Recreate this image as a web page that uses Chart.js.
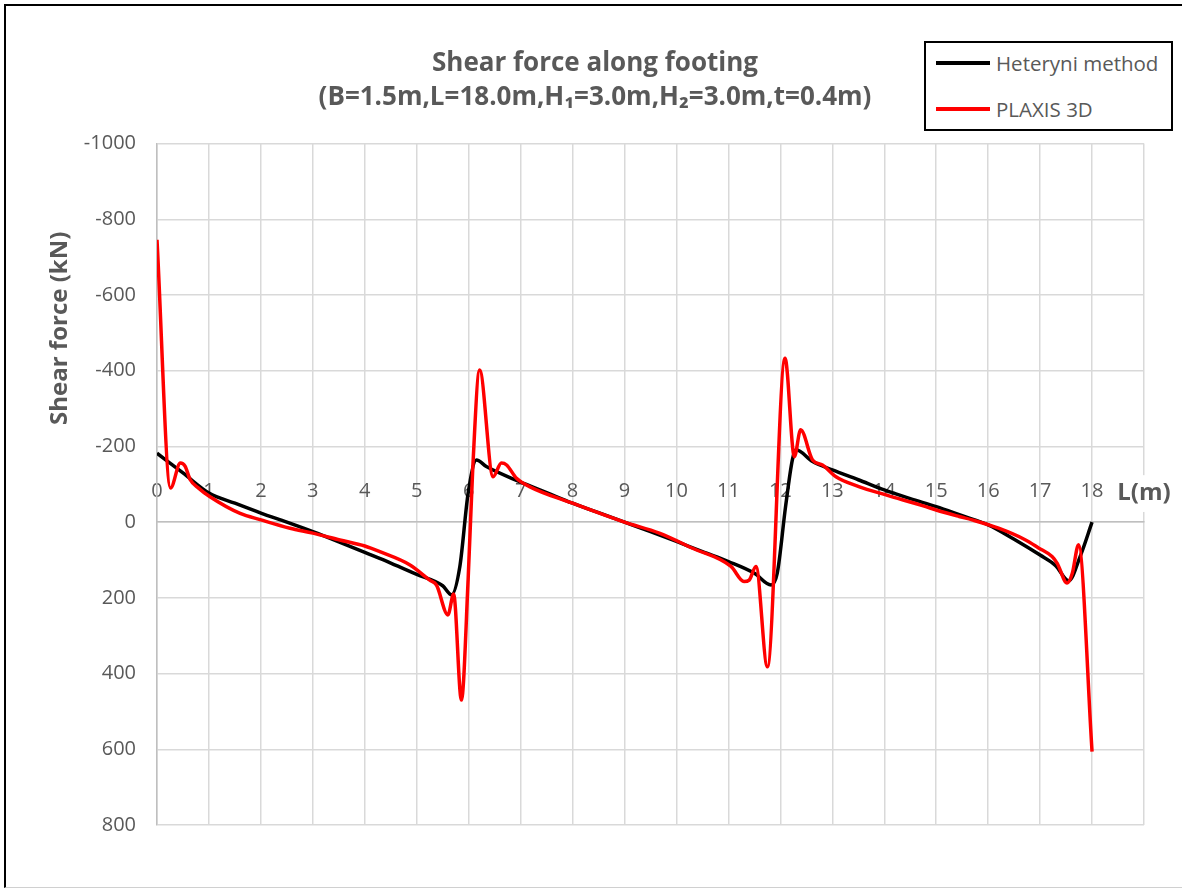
<!DOCTYPE html>
<html>
<head>
    <title>Shear force along footing</title>
    <script src="https://cdn.jsdelivr.net/npm/chart.js"></script>
    <style>
        html, body { margin: 0; padding: 0; background: #fff; overflow: hidden; }
        #frame { position: absolute; left: 4px; top: 4px; width: 1190px; height: 881px;
                 border-top: 2px solid #000; border-left: 2px solid #000; border-bottom: 1px solid #d0d0d0; }
        #wrap { position: absolute; left: 0; top: 0; width: 1182px; height: 888px; }
        #legend { position: absolute; left: 924px; top: 41px; width: 245px; height: 86px;
                  border: 2px solid #000; background: #fff; font-family: 'Open Sans', sans-serif;
                  font-size: 20.5px; color: #595959; }
        .item { position: absolute; left: 10px; height: 28px; display: flex; align-items: center; }
        .item .swatch { width: 54px; height: 4px; margin-right: 6px; }
    </style>
</head>
<body>
    <div id="frame"></div>
    <div id="wrap"><canvas id="chart" width="1182" height="888"></canvas></div>
    <div id="legend"></div>

    <script>
        // Hetenyi method (analytical)
        const heteX = [0, 0.5, 1, 1.5, 2, 2.5, 3, 3.5, 4, 4.5, 5, 5.5, 5.67, 5.83, 5.99, 6.15, 6.34, 6.98, 7.5, 8,
                       8.5, 9, 9.5, 10, 10.5, 11, 11.5, 11.82, 11.94, 12.1, 12.23, 12.3, 12.62, 13, 13.5, 14,
                       14.5, 15, 15.5, 16, 16.5, 17, 17.3, 17.55, 17.77, 18];
        const heteV = [-182, -130, -77, -50, -24, 0, 25, 52, 80, 108, 138, 168, 192, 117, -77, -164, -147, -107, -78, -50,
                       -25, 0, 25, 51, 78, 104, 135, 166, 135, -41, -164, -191, -160, -138, -112, -85,
                       -62, -41, -17, 7, 45, 87, 115, 155, 91, 0];

        // PLAXIS 3D (numerical)
        const plaxX = [0, 0.26, 0.45, 0.54, 0.64, 0.8, 1.02, 1.6, 2, 2.56, 3, 3.52, 4, 4.29, 4.87, 5.25, 5.38, 5.6,
                       5.71, 5.86, 5.99, 6.08, 6.21, 6.47, 6.63, 6.73, 6.92, 7.17, 8, 9, 9.67, 10.31, 11.05,
                       11.3, 11.4, 11.53, 11.75, 12.09, 12.27, 12.39, 12.62, 12.81, 13.07, 13.51, 14.03, 14.8,
                       15, 15.44, 15.69, 16.2, 16.72, 16.97, 17.23, 17.33, 17.52, 17.62, 17.74, 18];
        const plaxV = [-746, -90, -156, -148, -112, -90, -67, -23, -6, 16, 29, 47, 63, 78, 113, 153, 166, 245,
                       190, 470, 150, -147, -402, -120, -156, -151, -116, -94, -50, 0, 29, 69, 117,
                       157, 153, 117, 382, -433, -173, -244, -164, -151, -120, -94, -72, -41,
                       -32, -15, -6, 16, 47, 68, 91, 109, 161, 135, 60, 606];

        const xTicksMax = 19;   // last grid column carries the axis name
        const xAxisName = 'L(m)';
        const yTicks = { min: -1000, max: 800, step: 200 };

        const textGray = '#595959';
        const gridGray = '#d9d9d9';

        Chart.defaults.font.family = "'Open Sans', sans-serif";
        Chart.defaults.color = textGray;

        const toPts = (xs, vs) => xs.map((x, i) => ({ x: x, y: vs[i] }));

        const chart = new Chart(document.getElementById('chart'), {
            type: 'line',
            data: {
                datasets: [
                    {
                        label: 'Heteryni method',
                        data: toPts(heteX, heteV),
                        borderColor: '#000000',
                        borderWidth: 3.5,
                        pointRadius: 0,
                        cubicInterpolationMode: 'monotone',
                        order: 1
                    },
                    {
                        label: 'PLAXIS 3D',
                        data: toPts(plaxX, plaxV),
                        borderColor: '#ff0000',
                        borderWidth: 3.5,
                        pointRadius: 0,
                        cubicInterpolationMode: 'monotone',
                        order: 0
                    }
                ]
            },
            options: {
                responsive: false,
                animation: false,
                layout: { padding: { left: 46, right: 38, top: 0, bottom: 63 } },
                plugins: {
                    legend: { display: false },
                    tooltip: { enabled: false },
                    title: {
                        display: true,
                        text: ['Shear force along footing', '(B=1.5m,L=18.0m,H\u2081=3.0m,H\u2082=3.0m,t=0.4m)'],
                        color: textGray,
                        font: { size: 26, weight: 'bold', lineHeight: 1.3 },
                        padding: { top: 47, bottom: 29 }
                    }
                },
                scales: {
                    x: {
                        type: 'linear',
                        position: { y: 0 },
                        min: 0,
                        max: xTicksMax,
                        grid: { color: gridGray, lineWidth: 1.5, drawTicks: false },
                        border: { color: '#bfbfbf', width: 1.5 },
                        ticks: {
                            stepSize: 1,
                            autoSkip: false,
                            maxRotation: 0,
                            minRotation: 0,
                            padding: -43,
                            color: textGray,
                            font: ctx => ctx.tick && ctx.tick.value === xTicksMax
                                ? { size: 24, weight: 'bold' } : { size: 20 },
                            showLabelBackdrop: ctx => !!(ctx.tick && ctx.tick.value === xTicksMax),
                            backdropColor: '#ffffff',
                            backdropPadding: 4,
                            callback: v => v === xTicksMax ? xAxisName : String(v)
                        }
                    },
                    y: {
                        type: 'linear',
                        reverse: true,
                        min: yTicks.min,
                        max: yTicks.max,
                        afterFit: scale => { scale.width = 111; },
                        grid: { color: gridGray, lineWidth: 1.5, drawTicks: false },
                        border: { color: '#bfbfbf', width: 1.5 },
                        ticks: {
                            stepSize: yTicks.step,
                            padding: 21,
                            color: textGray,
                            font: { size: 20 },
                            callback: v => String(v)
                        },
                        title: {
                            display: true,
                            // leading em spaces lift the centred label towards the top, as in the original
                            text: '\u2003'.repeat(13) + 'Shear force (kN)',
                            align: 'center',
                            color: textGray,
                            font: { size: 24, weight: 'bold' },
                            padding: 0
                        }
                    }
                }
            }
        });

        // legend box built from the datasets
        const legend = document.getElementById('legend');
        chart.data.datasets.forEach((ds, i) => {
            const row = document.createElement('div');
            row.className = 'item';
            row.style.top = (6 + i * 46) + 'px';
            row.innerHTML = '<span class="swatch" style="background:' + ds.borderColor + '"></span>' + ds.label;
            legend.appendChild(row);
        });
    </script>
</body>
</html>
